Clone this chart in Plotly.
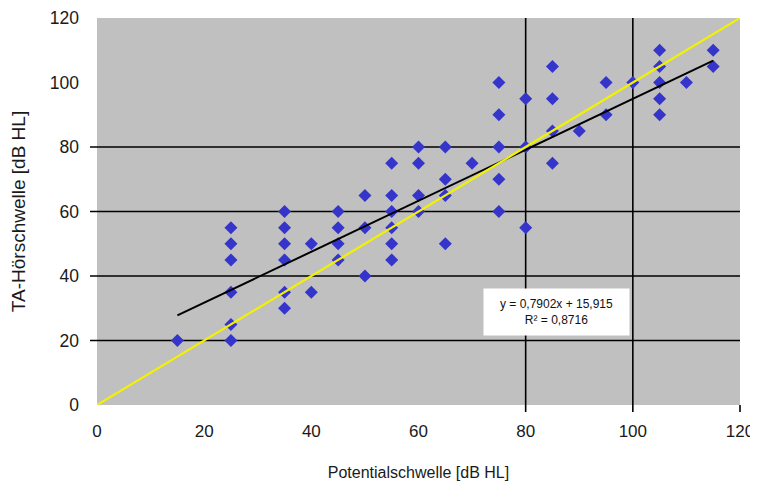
import plotly.graph_objects as go

# Measured points (Potentialschwelle, TA-Hörschwelle) in dB HL
pot_x = [15,
         25, 25, 25, 25, 25, 25,
         35, 35, 35, 35, 35, 35,
         40, 40,
         45, 45, 45, 45,
         50, 50, 50,
         55, 55, 55, 55, 55, 55,
         60, 60, 60, 60,
         65, 65, 65, 65,
         70,
         75, 75, 75, 75, 75,
         80, 80, 80,
         85, 85, 85, 85,
         90,
         95, 95,
         100,
         105, 105, 105, 105, 105,
         110,
         115, 115]
ta_y = [20,
        55, 50, 45, 35, 25, 20,
        60, 55, 50, 45, 35, 30,
        50, 35,
        60, 55, 50, 45,
        65, 55, 40,
        75, 65, 60, 55, 50, 45,
        80, 75, 65, 60,
        80, 70, 65, 50,
        75,
        100, 90, 80, 70, 60,
        95, 80, 55,
        105, 95, 85, 75,
        85,
        100, 90,
        100,
        110, 105, 100, 95, 90,
        100,
        110, 105]

# Linear trend (as printed in the chart)
trend_slope = 0.7902
trend_intercept = 15.915
trend_label = "y = 0,7902x + 15,915<br>R² = 0,8716"

# Identity line
ident = [0, 120]

tick_vals = [0, 20, 40, 60, 80, 100, 120]
h_grid = [20, 40, 60, 80]
v_grid = [80, 100]

x_lo, x_hi = min(pot_x), max(pot_x)
trend_x = [x_lo, x_hi]
trend_y = [trend_slope * v + trend_intercept for v in trend_x]

fig = go.Figure()
fig.add_trace(go.Scatter(
    x=pot_x, y=ta_y, mode="markers",
    marker=dict(symbol="diamond", size=10, color="#3535cc",
                line=dict(width=0)),
    showlegend=False, hoverinfo="x+y"))
fig.add_trace(go.Scatter(
    x=trend_x, y=trend_y, mode="lines",
    line=dict(color="#000000", width=2), showlegend=False))
fig.add_trace(go.Scatter(
    x=ident, y=ident, mode="lines",
    line=dict(color="#f2f200", width=2.2), showlegend=False))

PW, PH = 643, 387
shapes = []
for v in h_grid:
    shapes.append(dict(type="line", xref="paper", yref="y",
                       x0=-7 / PW, x1=1, y0=v, y1=v,
                       line=dict(color="#000000", width=1.6), layer="below"))
for v in v_grid:
    shapes.append(dict(type="line", xref="x", yref="paper",
                       x0=v, x1=v, y0=-7 / PH, y1=1,
                       line=dict(color="#000000", width=1.6), layer="below"))
shapes.append(dict(type="line", xref="paper", yref="paper",
                   x0=1, x1=1, y0=-7 / PH, y1=0,
                   line=dict(color="#000000", width=1.6), layer="below"))

fig.add_annotation(
    x=85.7, y=28.9, xref="x", yref="y", text=trend_label,
    showarrow=False, bgcolor="#ffffff", width=143, height=44,
    font=dict(family="Liberation Sans, Arial, sans-serif", size=12,
              color="#111111"),
    align="center")

# the page adds an 8px offset; margins compensate for it
fig.update_layout(
    width=758, height=488,
    margin=dict(l=89, r=26, t=10, b=91, autoexpand=False),
    plot_bgcolor="#c0c0c0", paper_bgcolor="#ffffff",
    shapes=shapes,
    font=dict(family="Liberation Sans, Arial, sans-serif", color="#1a1a1a"),
    xaxis=dict(range=[0, 120], tickvals=tick_vals, showgrid=False,
               zeroline=False, showline=False, ticks="",
               tickfont=dict(size=17), ticklabelstandoff=14,
               ticklabeloverflow="allow",
               title=dict(text="Potentialschwelle [dB HL]",
                          font=dict(size=16), standoff=26),
               automargin=False),
    yaxis=dict(range=[0, 120], tickvals=tick_vals, showgrid=False,
               zeroline=False, showline=False, ticks="",
               tickfont=dict(size=17.5), ticklabelstandoff=17,
               ticklabeloverflow="allow",
               title=dict(text="TA-Hörschwelle [dB HL]",
                          font=dict(size=19), standoff=20),
               automargin=False),
)

fig.write_html("out.html")
